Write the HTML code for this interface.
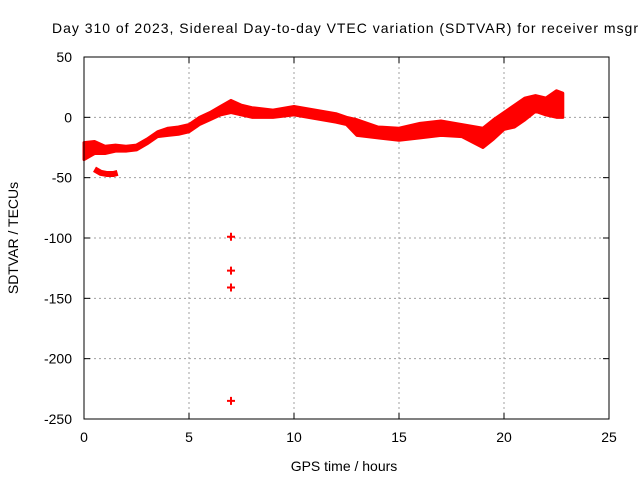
<!DOCTYPE html>
<html><head><meta charset="utf-8"><style>
body{margin:0;background:#fff}
svg{display:block;font-family:"Liberation Sans",sans-serif;font-size:14px}
</style></head><body>
<svg width="640" height="480">
<rect x="0" y="0" width="640" height="480" fill="#fff"/>
<g id="grid"></g>
<g id="series"></g>
<rect x="84" y="57" width="525" height="362" fill="none" stroke="#000" stroke-width="1"/>
<g id="ticks"></g>
<text x="52" y="33" textLength="586" lengthAdjust="spacing">Day 310 of 2023, Sidereal Day-to-day VTEC variation (SDTVAR) for receiver msgr</text>
<text x="344" y="471" text-anchor="middle">GPS time / hours</text>
<text transform="translate(18,238) rotate(-90)" text-anchor="middle">SDTVAR / TECUs</text>
</svg>
<script>
const xTicks=[0,5,10,15,20,25];
const yTicks=[50,0,-50,-100,-150,-200,-250];
const times=[0,0.5,1,1.5,2,2.5,3,3.5,4,4.5,5,5.5,6,6.5,7,7.5,8,9,10,11,12,12.5,13,14,15,16,17,18,19,19.5,20,20.5,21,21.5,22,22.5,22.8];
const upper=[-21,-20,-24,-23,-24,-23,-18,-12,-9,-8,-6,0,4,9,14,10,8,6,9,6,3,0,-2,-8,-9,-5,-3,-6,-9,-2,4,10,16,18,16,22,20];
const lower=[-35,-30,-30,-28,-28,-27,-22,-16,-15,-14,-12,-6,-2,2,4,2,0,0,2,-1,-4,-6,-15,-17,-19,-17,-15,-16,-25,-18,-10,-8,-2,5,2,0,0];
const sideT=[0.5,0.8,1.1,1.4,1.6];
const sideV=[-43,-46,-47,-47,-46];
const outT=[7,7,7,7];
const outV=[-99,-127,-141,-235];
const NS="http://www.w3.org/2000/svg";
const sx=t=>84+t*21, sy=v=>57+(50-v)*362/300;
const grid=document.getElementById('grid'),ticks=document.getElementById('ticks'),ser=document.getElementById('series');
function mk(tag,a,p){const e=document.createElementNS(NS,tag);for(const k in a)e.setAttribute(k,a[k]);p.appendChild(e);return e;}
xTicks.forEach(t=>{const x=sx(t);
 if(t>0&&t<25){const g=mk('line',{x1:x,x2:x,y1:57,y2:419,stroke:'#a0a0a0','stroke-dasharray':'2,3'},grid);
 
 }
 mk('line',{x1:x,x2:x,y1:419,y2:413,stroke:'#000'},ticks);mk('line',{x1:x,x2:x,y1:57,y2:63,stroke:'#000'},ticks);
 const l=mk('text',{x:x,y:442,'text-anchor':'middle'},ticks);l.textContent=t;
 
 });
yTicks.forEach(v=>{const y=sy(v);
 if(v<50&&v>-250){const g=mk('line',{x1:84,x2:609,y1:y,y2:y,stroke:'#a0a0a0','stroke-dasharray':'2,3'},grid);
 
 }
 mk('line',{x1:84,x2:90,y1:y,y2:y,stroke:'#000'},ticks);mk('line',{x1:609,x2:603,y1:y,y2:y,stroke:'#000'},ticks);
 const l=mk('text',{x:72,y:y+5,'text-anchor':'end'},ticks);l.textContent=v;
 
 });
let d='M'+times.map((t,i)=>sx(t)+','+sy(upper[i])).join(' L');
d+=' L'+times.map((t,i)=>sx(t)+','+sy(lower[i])).reverse().join(' L')+' Z';
const band=mk('path',{d:d,fill:'#ff0000',stroke:'#ff0000','stroke-width':3,'stroke-linejoin':'round'},ser);


const side=mk('polyline',{points:sideT.map((t,i)=>sx(t)+','+sy(sideV[i])).join(' '),fill:'none',stroke:'#ff0000','stroke-width':6},ser);


outT.forEach((t,i)=>{const x=sx(t),y=sy(outV[i]);
 const p=mk('path',{d:`M${x-4},${y}H${x+4}M${x},${y-4}V${y+4}`,stroke:'#ff0000','stroke-width':2},ser);
 
 });
</script>
</body></html>
